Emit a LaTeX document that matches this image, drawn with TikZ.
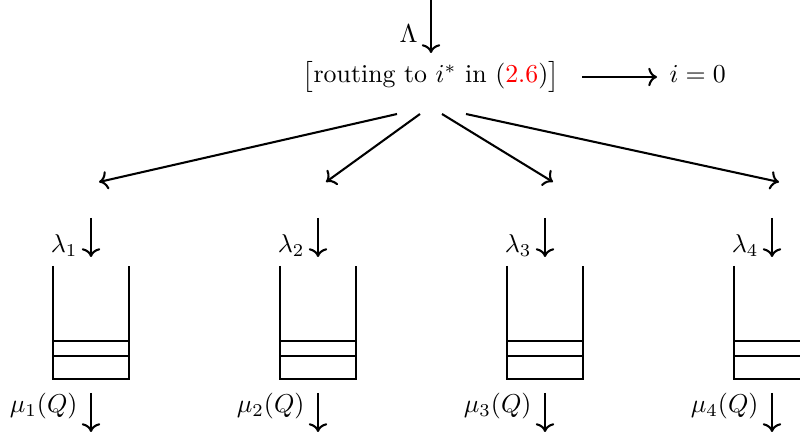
\documentclass[tikz,border=0pt]{standalone}
\usepackage{xcolor}
\usetikzlibrary{arrows.meta}
\begin{document}
\begin{tikzpicture}[x=0.387pt,y=-0.387pt,
  ln/.style={thick},
  arr/.style={thick,-{To[length=3.4pt,width=7.2pt]}},
  lbl/.style={inner sep=0pt,anchor=base east}]
\useasboundingbox (0,0) rectangle (800,433);
\clip (0,0) rectangle (800,433);
% top input
\coordinate (ttop) at (431,-2);
\coordinate (tbot) at (431,53);
\draw[arr] (ttop) -- (tbot);
\node[lbl] (Lam) at (418,43) {$\Lambda$};
% routing
\node[anchor=base,inner sep=0pt] (R) at (431,83) {$\bigl[$routing to $i^*$ in (\textcolor{red}{2.6})$\bigr]$};
\node[anchor=base west,inner sep=0pt] (Z) at (669,83) {$i=0$};
\coordinate (zs) at (582,77);
\coordinate (ze) at (657,77);
\draw[arr] (zs) -- (ze);
% fan
\coordinate (f1s) at (397,114); \coordinate (f1e) at (99,182);
\coordinate (f2s) at (420,114); \coordinate (f2e) at (326,182);
\coordinate (f3s) at (442,114); \coordinate (f3e) at (553,182);
\coordinate (f4s) at (466,114); \coordinate (f4e) at (779,182);
\draw[arr] (f1s) -- (f1e);
\draw[arr] (f2s) -- (f2e);
\draw[arr] (f3s) -- (f3e);
\draw[arr] (f4s) -- (f4e);
% queues
\foreach \k in {1,2,3,4}{
  \pgfmathsetmacro{\xl}{53+227*(\k-1)}
  \pgfmathsetmacro{\xr}{\xl+76}
  \pgfmathsetmacro{\xc}{\xl+38}
  \draw[ln] (\xl,266) -- (\xl,379) -- (\xr,379) -- (\xr,266);
  \draw[ln] (\xl,341) -- (\xr,341);
  \draw[ln] (\xl,356) -- (\xr,356);
  \coordinate (a\k) at (\xc,218);
  \coordinate (b\k) at (\xc,257);
  \draw[arr] (a\k) -- (b\k);
  \node[lbl] (lam\k) at (\xl+25,253) {$\lambda_{\k}$};
  \coordinate (c\k) at (\xc,393);
  \coordinate (d\k) at (\xc,432);
  \draw[arr] (c\k) -- (d\k);
  \node[lbl] (mu\k) at (\xl+25,413) {$\mu_{\k}(Q)$};
}
\end{tikzpicture}
\end{document}
